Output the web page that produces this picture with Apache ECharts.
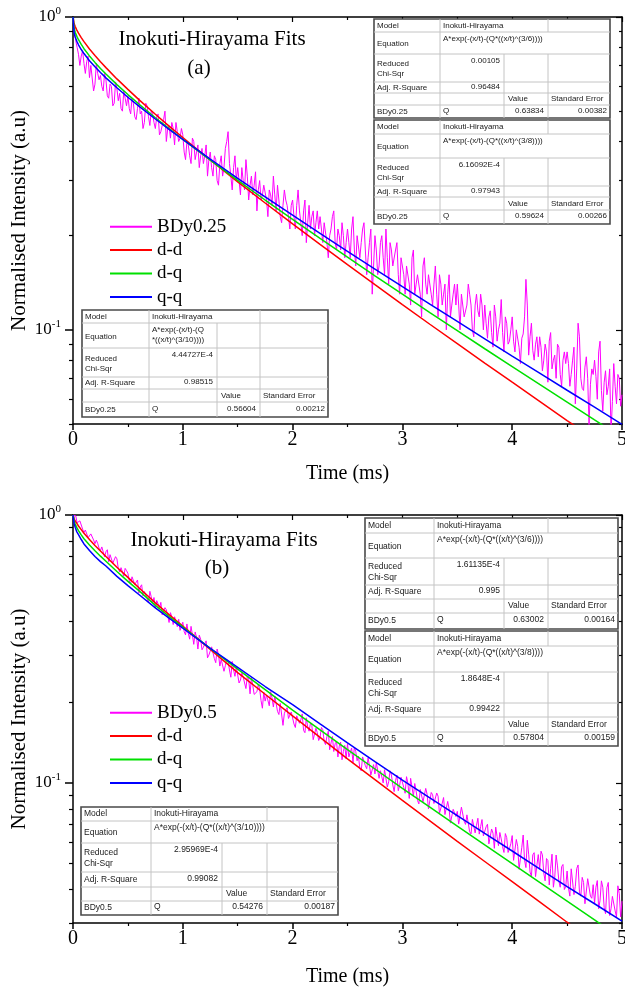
<!DOCTYPE html>
<html>
<head>
<meta charset="utf-8">
<script src="https://cdn.jsdelivr.net/npm/echarts@6/dist/echarts.min.js"></script>
<style>
  html, body { margin: 0; padding: 0; background: #ffffff; }
  #chart { width: 625px; height: 990px; }
</style>
</head>
<body>
<div id="chart"></div>
<script>
// ---- Measured decay data (normalised intensity) ----
// "Even" arrays hold samples at t = 0, 0.025, 0.05 ... 5 ms,
// "odd" arrays hold the samples in between (t = 0.0125, 0.0375 ... 4.9875 ms).
const sampleStep = 0.025;

const decayBDy025Even = [
  0.98, 0.84, 0.76, 0.75, 0.71, 0.72, 0.64, 0.69, 0.61, 0.66,
  0.65, 0.58, 0.63, 0.55, 0.60, 0.53, 0.59, 0.57, 0.50, 0.55,
  0.56, 0.49, 0.53, 0.47, 0.55, 0.50, 0.46, 0.52, 0.45, 0.49,
  0.44, 0.49, 0.43, 0.47, 0.40, 0.45, 0.46, 0.39, 0.43, 0.41,
  0.42, 0.35, 0.39, 0.34, 0.40, 0.37, 0.33, 0.38, 0.36, 0.31,
  0.37, 0.31, 0.35, 0.29, 0.36, 0.33, 0.40, 0.34, 0.28, 0.36,
  0.33, 0.27, 0.30, 0.35, 0.26, 0.31, 0.29, 0.24, 0.30, 0.27,
  0.29, 0.23, 0.27, 0.31, 0.24, 0.26, 0.22, 0.28, 0.25, 0.21,
  0.26, 0.21, 0.28, 0.22, 0.24, 0.19, 0.25, 0.23, 0.20, 0.24,
  0.23, 0.19, 0.22, 0.17, 0.21, 0.24, 0.18, 0.20, 0.22, 0.17,
  0.21, 0.17, 0.23, 0.16, 0.20, 0.19, 0.22, 0.15, 0.19, 0.13,
  0.20, 0.15, 0.19, 0.17, 0.21, 0.14, 0.18, 0.16, 0.19, 0.13,
  0.17, 0.13, 0.16, 0.12, 0.18, 0.14, 0.15, 0.11, 0.17, 0.13,
  0.15, 0.12, 0.16, 0.11, 0.14, 0.13, 0.10, 0.15, 0.12, 0.14,
  0.14, 0.10, 0.13, 0.11, 0.14, 0.12, 0.095, 0.13, 0.11, 0.12,
  0.12, 0.094, 0.115, 0.088, 0.11, 0.10, 0.125, 0.085, 0.105, 0.092,
  0.11, 0.085, 0.10, 0.078, 0.097, 0.145, 0.083, 0.105, 0.08, 0.095,
  0.095, 0.074, 0.09, 0.068, 0.098, 0.08, 0.07, 0.088, 0.066, 0.085,
  0.085, 0.066, 0.08, 0.058, 0.105, 0.07, 0.064, 0.082, 0.049, 0.075,
  0.08, 0.06, 0.092, 0.055, 0.074, 0.066, 0.047, 0.078, 0.058, 0.07,
  0.062
];
const decayBDy025Odd = [
  0.90, 0.80, 0.70, 0.78, 0.66, 0.75, 0.70, 0.58, 0.71, 0.63,
  0.60, 0.66, 0.56, 0.61, 0.52, 0.62, 0.54, 0.51, 0.58, 0.52,
  0.51, 0.55, 0.48, 0.51, 0.49, 0.44, 0.53, 0.48, 0.50, 0.46,
  0.48, 0.42, 0.45, 0.50, 0.44, 0.41, 0.44, 0.46, 0.40, 0.44,
  0.37, 0.40, 0.36, 0.41, 0.35, 0.39, 0.36, 0.34, 0.39, 0.35,
  0.33, 0.36, 0.30, 0.34, 0.31, 0.38, 0.43, 0.31, 0.33, 0.30,
  0.30, 0.33, 0.28, 0.31, 0.29, 0.27, 0.32, 0.28, 0.26, 0.29,
  0.26, 0.28, 0.25, 0.27, 0.29, 0.23, 0.25, 0.26, 0.23, 0.25,
  0.23, 0.25, 0.24, 0.20, 0.26, 0.22, 0.21, 0.24, 0.22, 0.21,
  0.21, 0.22, 0.19, 0.20, 0.23, 0.19, 0.21, 0.18, 0.20, 0.19,
  0.19, 0.21, 0.18, 0.20, 0.17, 0.21, 0.18, 0.17, 0.21, 0.16,
  0.18, 0.16, 0.20, 0.15, 0.17, 0.19, 0.16, 0.18, 0.15, 0.17,
  0.15, 0.16, 0.14, 0.17, 0.13, 0.15, 0.13, 0.16, 0.14, 0.15,
  0.13, 0.14, 0.13, 0.15, 0.12, 0.14, 0.13, 0.11, 0.13, 0.12,
  0.12, 0.13, 0.11, 0.12, 0.13, 0.10, 0.12, 0.115, 0.13, 0.10,
  0.105, 0.11, 0.098, 0.12, 0.092, 0.105, 0.098, 0.11, 0.09, 0.10,
  0.092, 0.10, 0.088, 0.094, 0.11, 0.12, 0.095, 0.086, 0.09, 0.082,
  0.088, 0.08, 0.085, 0.092, 0.075, 0.083, 0.09, 0.072, 0.08, 0.078,
  0.078, 0.072, 0.088, 0.075, 0.095, 0.065, 0.076, 0.07, 0.067, 0.072,
  0.071, 0.085, 0.064, 0.068, 0.062, 0.075, 0.059, 0.066, 0.072, 0.057
];

const decayBDy05Even = [
  1.0, 0.993, 0.925, 0.939, 0.860, 0.870, 0.833, 0.850, 0.781, 0.783,
  0.737, 0.773, 0.729, 0.669, 0.707, 0.660, 0.686, 0.613, 0.633, 0.632,
  0.606, 0.553, 0.587, 0.546, 0.511, 0.549, 0.518, 0.488, 0.519, 0.469,
  0.450, 0.466, 0.472, 0.429, 0.443, 0.397, 0.417, 0.417, 0.383, 0.371,
  0.398, 0.357, 0.362, 0.384, 0.329, 0.350, 0.356, 0.314, 0.331, 0.293,
  0.305, 0.323, 0.281, 0.301, 0.289, 0.261, 0.289, 0.264, 0.284, 0.250,
  0.269, 0.242, 0.249, 0.225, 0.244, 0.247, 0.214, 0.219, 0.224, 0.190,
  0.202, 0.213, 0.219, 0.192, 0.198, 0.180, 0.197, 0.182, 0.191, 0.172,
  0.184, 0.161, 0.181, 0.172, 0.157, 0.175, 0.156, 0.164, 0.144, 0.154,
  0.148, 0.158, 0.139, 0.156, 0.141, 0.131, 0.143, 0.137, 0.122, 0.138,
  0.140, 0.127, 0.119, 0.131, 0.126, 0.111, 0.126, 0.113, 0.116, 0.108,
  0.108, 0.120, 0.111, 0.100, 0.112, 0.101, 0.107, 0.0928, 0.107, 0.098,
  0.106, 0.0915, 0.0998, 0.104, 0.0891, 0.0932, 0.0835, 0.0956, 0.0859, 0.0907,
  0.0806, 0.0904, 0.084, 0.0892, 0.0772, 0.0882, 0.0772, 0.080, 0.0717, 0.0806,
  0.0783, 0.0705, 0.0799, 0.070, 0.0762, 0.0645, 0.0733, 0.0695, 0.0644, 0.073,
  0.0632, 0.0701, 0.0595, 0.0649, 0.0684, 0.0583, 0.0618, 0.055, 0.0625, 0.0569,
  0.0636, 0.0518, 0.058, 0.048, 0.0639, 0.0483, 0.0542, 0.0448, 0.0549, 0.0493,
  0.0476, 0.0539, 0.0431, 0.0513, 0.048, 0.0408, 0.0538, 0.043, 0.0487, 0.040,
  0.0469, 0.0378, 0.0476, 0.0411, 0.0494, 0.0378, 0.0425, 0.0358, 0.0437, 0.0371,
  0.0355, 0.0432, 0.0364, 0.0408, 0.0325, 0.0425, 0.0339, 0.038, 0.0316, 0.0386,
  0.0362
];
const decayBDy05Odd = [
  1.0, 0.936, 0.951, 0.886, 0.879, 0.823, 0.850, 0.807, 0.806, 0.752,
  0.760, 0.698, 0.742, 0.711, 0.661, 0.699, 0.631, 0.636, 0.591, 0.620,
  0.567, 0.588, 0.550, 0.572, 0.539, 0.499, 0.524, 0.470, 0.495, 0.492,
  0.479, 0.447, 0.424, 0.451, 0.422, 0.432, 0.390, 0.400, 0.408, 0.373,
  0.367, 0.392, 0.344, 0.357, 0.366, 0.316, 0.344, 0.321, 0.339, 0.300,
  0.322, 0.291, 0.316, 0.273, 0.291, 0.274, 0.284, 0.248, 0.264, 0.271,
  0.236, 0.257, 0.236, 0.250, 0.215, 0.231, 0.214, 0.233, 0.203, 0.218,
  0.213, 0.194, 0.208, 0.211, 0.185, 0.198, 0.164, 0.187, 0.174, 0.184,
  0.166, 0.178, 0.167, 0.181, 0.154, 0.162, 0.167, 0.145, 0.160, 0.144,
  0.161, 0.143, 0.149, 0.133, 0.149, 0.140, 0.125, 0.142, 0.131, 0.123,
  0.125, 0.135, 0.136, 0.121, 0.113, 0.125, 0.116, 0.124, 0.107, 0.117,
  0.119, 0.104, 0.111, 0.112, 0.0965, 0.111, 0.0983, 0.102, 0.0935, 0.105,
  0.0962, 0.1055, 0.0875, 0.0965, 0.0995, 0.086, 0.0945, 0.085, 0.0954, 0.080,
  0.0921, 0.0838, 0.0917, 0.077, 0.0839, 0.0762, 0.0853, 0.0708, 0.0797, 0.0749,
  0.0702, 0.0812, 0.072, 0.076, 0.0657, 0.0731, 0.0651, 0.0738, 0.0687, 0.0634,
  0.0686, 0.0592, 0.0673, 0.057, 0.063, 0.0653, 0.0578, 0.0647, 0.055, 0.0593,
  0.0514, 0.0615, 0.0476, 0.0575, 0.0515, 0.0611, 0.0465, 0.0539, 0.0447, 0.054,
  0.0556, 0.0461, 0.0522, 0.0416, 0.0542, 0.0445, 0.049, 0.0408, 0.0496, 0.041,
  0.0405, 0.0478, 0.0383, 0.0479, 0.0392, 0.0444, 0.0354, 0.0439, 0.0378, 0.0417,
  0.0408, 0.0339, 0.0431, 0.0343, 0.0406, 0.032, 0.0377, 0.0333, 0.0413, 0.0316
];

// ---- Inokuti-Hirayama fit curves, read at these times (ms) ----
const fitTime = [0, 0.01, 0.02, 0.035, 0.05, 0.075, 0.1, 0.15, 0.2, 0.25, 0.3, 0.4, 0.5, 0.6, 0.75, 0.875,
  1, 1.25, 1.5, 1.75, 2, 2.25, 2.5, 2.75, 3, 3.25, 3.5, 3.75, 4, 4.25, 4.5, 4.75, 5];

const fitDD_a = [1, 0.953, 0.932, 0.908, 0.888, 0.859, 0.834, 0.790, 0.753, 0.719, 0.689, 0.634, 0.587, 0.5445, 0.489, 0.448,
  0.412, 0.349, 0.297, 0.2543, 0.218, 0.1875, 0.1615, 0.1394, 0.1204, 0.1042, 0.0903, 0.0783, 0.068, 0.0591, 0.0513, 0.0447, 0.0389];
const fitDQ_a = [1, 0.920, 0.894, 0.867, 0.846, 0.817, 0.792, 0.751, 0.716, 0.685, 0.657, 0.608, 0.565, 0.527, 0.4765, 0.4396,
  0.406, 0.3486, 0.3005, 0.260, 0.2256, 0.196, 0.1707, 0.1488, 0.130, 0.1136, 0.0994, 0.0870, 0.0763, 0.0669, 0.0587, 0.0515, 0.0453];
const fitQQ_a = [1, 0.890, 0.863, 0.836, 0.815, 0.787, 0.764, 0.725, 0.693, 0.665, 0.639, 0.594, 0.554, 0.519, 0.472, 0.4374,
  0.406, 0.3514, 0.305, 0.2661, 0.2325, 0.2034, 0.178, 0.1564, 0.1374, 0.1208, 0.1064, 0.0936, 0.0824, 0.0727, 0.0641, 0.0566, 0.0499];

const fitDD_b = [1, 0.968, 0.95, 0.93, 0.91, 0.882, 0.855, 0.81, 0.77, 0.734, 0.70, 0.638, 0.585, 0.535, 0.47, 0.425,
  0.385, 0.315, 0.258, 0.2143, 0.178, 0.148, 0.123, 0.1029, 0.086, 0.0721, 0.0605, 0.0509, 0.0428, 0.036, 0.0302, 0.0254, 0.0213];
const fitDQ_b = [1, 0.95, 0.925, 0.897, 0.875, 0.843, 0.815, 0.773, 0.735, 0.702, 0.672, 0.615, 0.565, 0.522, 0.46, 0.418,
  0.382, 0.318, 0.266, 0.223, 0.187, 0.1577, 0.133, 0.1127, 0.0955, 0.0812, 0.069, 0.0587, 0.050, 0.0425, 0.0362, 0.0308, 0.0262];
const fitQQ_b = [1, 0.93, 0.90, 0.865, 0.845, 0.81, 0.78, 0.737, 0.70, 0.67, 0.645, 0.59, 0.545, 0.505, 0.45, 0.412,
  0.378, 0.318, 0.27, 0.229, 0.196, 0.166, 0.141, 0.120, 0.1025, 0.088, 0.0755, 0.0648, 0.0557, 0.0478, 0.041, 0.0354, 0.0305];

// ---- Axis ticks ----
const xTicks = [0, 1, 2, 3, 4, 5];
const yMajorTicks = [1, 0.1];
const yMinorTicks = [0.9, 0.8, 0.7, 0.6, 0.5, 0.4, 0.3, 0.2, 0.09, 0.08, 0.07, 0.06, 0.05, 0.04, 0.03];

// ---- Fit-result tables ----
const tableA1 = { eq: ['A*exp(-(x/t)-(Q*((x/t)^(3/6))))'], chi: '0.00105', r2: '0.96484', sample: 'BDy0.25', q: '0.63834', err: '0.00382' };
const tableA2 = { eq: ['A*exp(-(x/t)-(Q*((x/t)^(3/8))))'], chi: '6.16092E-4', r2: '0.97943', sample: 'BDy0.25', q: '0.59624', err: '0.00266' };
const tableA3 = { eq: ['A*exp(-(x/t)-(Q', '*((x/t)^(3/10))))'], chi: '4.44727E-4', r2: '0.98515', sample: 'BDy0.25', q: '0.56604', err: '0.00212' };
const tableB1 = { eq: ['A*exp(-(x/t)-(Q*((x/t)^(3/6))))'], chi: '1.61135E-4', r2: '0.995', sample: 'BDy0.5', q: '0.63002', err: '0.00164' };
const tableB2 = { eq: ['A*exp(-(x/t)-(Q*((x/t)^(3/8))))'], chi: '1.8648E-4', r2: '0.99422', sample: 'BDy0.5', q: '0.57804', err: '0.00159' };
const tableB3 = { eq: ['A*exp(-(x/t)-(Q*((x/t)^(3/10))))'], chi: '2.95969E-4', r2: '0.99082', sample: 'BDy0.5', q: '0.54276', err: '0.00187' };

// ---------------------------------------------------------------
const SERIF = '"Liberation Serif", "Times New Roman", serif';
const SANS = '"Liberation Sans", Arial, sans-serif';

const toPairs = (times, vals) => vals.map((v, i) => [times[i], v]);

// merge the on-grid and half-step samples into one time-ordered series
function mergeSamples(even, odd) {
  const out = [];
  even.forEach((v, i) => {
    out.push([Math.round(i * sampleStep * 10000) / 10000, v]);
    if (i < odd.length) out.push([Math.round((i + 0.5) * sampleStep * 10000) / 10000, odd[i]]);
  });
  return out;
}

function xAxes(gridIndex, nameGap) {
  return [
    {
      gridIndex, type: 'value', min: 0, max: 5, interval: 1, position: 'bottom',
      axisLine: { lineStyle: { color: '#000', width: 1.5 } },
      axisTick: { show: true, length: 6, inside: false, lineStyle: { color: '#000', width: 1.5 } },
      minorTick: { show: true, splitNumber: 2, length: 3, lineStyle: { color: '#000', width: 1.2 } },
      axisLabel: { color: '#000', fontSize: 20, fontFamily: SERIF, margin: 6, customValues: xTicks },
      splitLine: { show: false },
      name: 'Time (ms)', nameLocation: 'middle', nameGap, nameMoveOverlap: false,
      nameTextStyle: { color: '#000', fontSize: 20, fontFamily: SERIF }
    },
    {
      gridIndex, type: 'value', min: 0, max: 5, interval: 1, position: 'top',
      axisLine: { lineStyle: { color: '#000', width: 1.5 } },
      axisTick: { show: true, length: 5, inside: true, lineStyle: { color: '#000', width: 1.2 } },
      minorTick: { show: true, splitNumber: 2, length: 3, lineStyle: { color: '#000', width: 1.2 } },
      axisLabel: { show: false },
      splitLine: { show: false }
    }
  ];
}

function yAxes(gridIndex, minVal) {
  const base = { gridIndex, type: 'log', logBase: 10, min: minVal, max: 1, splitLine: { show: false } };
  const minors = yMinorTicks.filter(v => v >= minVal);
  return [
    Object.assign({}, base, {
      position: 'left',
      axisLine: { show: true, lineStyle: { color: '#000', width: 1.5 } },
      axisTick: { show: true, length: 8, inside: false, customValues: yMajorTicks, lineStyle: { color: '#000', width: 1.5 } },
      axisLabel: {
        show: true, margin: 12, customValues: yMajorTicks,
        formatter: (v) => (v >= 0.99 ? '{b|10}{s|0}' : '{b|10}{s|-1}'),
        rich: {
          b: { fontSize: 17, fontFamily: SERIF, color: '#000' },
          s: { fontSize: 11, fontFamily: SERIF, color: '#000', padding: [0, 0, 11, 0] }
        }
      },
      name: 'Normalised Intensity (a.u)', nameLocation: 'middle', nameGap: 43, nameRotate: 90,
      nameMoveOverlap: false,
      nameTextStyle: { color: '#000', fontSize: 21, fontFamily: SERIF }
    }),
    Object.assign({}, base, {
      position: 'left',
      axisLine: { show: false },
      axisTick: { show: true, length: 4, inside: false, customValues: minors, lineStyle: { color: '#000', width: 1.2 } },
      axisLabel: { show: false }
    }),
    Object.assign({}, base, {
      position: 'right',
      axisLine: { show: true, lineStyle: { color: '#000', width: 1.5 } },
      axisTick: { show: true, length: 6, inside: true, customValues: yMajorTicks, lineStyle: { color: '#000', width: 1.2 } },
      axisLabel: { show: false }
    }),
    Object.assign({}, base, {
      position: 'right',
      axisLine: { show: false },
      axisTick: { show: true, length: 3, inside: true, customValues: minors, lineStyle: { color: '#000', width: 1.2 } },
      axisLabel: { show: false }
    })
  ];
}

function lineSeries(name, color, width, data, xIdx, yIdx, z) {
  return {
    name, type: 'line', data, xAxisIndex: xIdx, yAxisIndex: yIdx,
    showSymbol: false, symbol: 'none', smooth: false,
    clip: true, animation: false, z,
    lineStyle: { color, width }, itemStyle: { color }
  };
}

// Fit-result table drawn as graphic shapes.
function buildTable(t, cols, rows, fs, eqSplit) {
  const els = [];
  const [c0, c1, c2, c3, c4] = cols;
  const [r0, r1, r2, r3, r4, r5, r6] = rows;
  const grid = '#c4c4c4';
  els.push({ type: 'rect', shape: { x: c0, y: r0, width: c4 - c0, height: r6 - r0 },
    style: { fill: '#fff', stroke: '#4a4a4a', lineWidth: 1.6 }, z: 100 });
  const hline = (y) => els.push({ type: 'line', shape: { x1: c0, y1: y, x2: c4, y2: y }, style: { stroke: grid, lineWidth: 1 }, z: 101 });
  const vline = (x, ya, yb) => els.push({ type: 'line', shape: { x1: x, y1: ya, x2: x, y2: yb }, style: { stroke: grid, lineWidth: 1 }, z: 101 });
  [r1, r2, r3, r4, r5].forEach(hline);
  vline(c1, r0, r6);
  vline(c3, r0, r1);
  if (eqSplit) { vline(c2, r1, r2); vline(c3, r1, r2); }
  vline(c2, r2, r6);
  vline(c3, r2, r6);
  const txt = (s, x, y, align, vAlign) => els.push({
    type: 'text', x, y, z: 102,
    style: { text: s, fill: '#1a1a1a', font: fs + 'px ' + SANS, align: align || 'left',
      verticalAlign: vAlign || 'middle', lineHeight: Math.round(fs * 1.3) }
  });
  const mid = (a, b) => (a + b) / 2;
  txt('Model', c0 + 3, mid(r0, r1));
  txt('Inokuti-Hirayama', c1 + 3, mid(r0, r1));
  txt('Equation', c0 + 3, mid(r1, r2) + 1);
  txt(t.eq.join('\n'), c1 + 3, r1 + 1.5, 'left', 'top');
  txt('Reduced\nChi-Sqr', c0 + 3, mid(r2, r3) + 1);
  txt(t.chi, c2 - 4, r2 + 1.5, 'right', 'top');
  txt('Adj. R-Square', c0 + 3, mid(r3, r4));
  txt(t.r2, c2 - 4, mid(r3, r4) - 1, 'right');
  txt('Value', c2 + 4, mid(r4, r5));
  txt('Standard Error', c3 + 3, mid(r4, r5));
  txt(t.sample, c0 + 3, mid(r5, r6));
  txt('Q', c1 + 3, mid(r5, r6) - 1);
  txt(t.q, c3 - 4, mid(r5, r6) - 1, 'right');
  txt(t.err, c4 - 3, mid(r5, r6) - 1, 'right');
  return els;
}

const titleText = (s, x, y) => ({ type: 'text', x, y, z: 90,
  style: { text: s, fill: '#000', font: '21px ' + SERIF, align: 'center', verticalAlign: 'middle' } });

const graphics = [].concat(
  [titleText('Inokuti-Hirayama Fits', 212, 39), titleText('(a)', 199, 68),
   titleText('Inokuti-Hirayama Fits', 224, 540), titleText('(b)', 217, 568)],
  buildTable(tableA1, [374, 440, 504, 548, 610], [19, 32, 54, 82, 93, 105, 118], 8, false),
  buildTable(tableA2, [374, 440, 504, 548, 610], [120, 134, 158, 186, 197, 210, 224], 8, false),
  buildTable(tableA3, [82, 149, 217, 260, 328], [310, 323, 348, 377, 389, 402, 417], 8, true),
  buildTable(tableB1, [365, 434, 504, 548, 618], [518, 533, 558, 585, 599, 613, 629], 8.5, false),
  buildTable(tableB2, [365, 434, 504, 548, 618], [631, 646, 672, 703, 717, 732, 746], 8.5, false),
  buildTable(tableB3, [81, 151, 222, 267, 338], [807, 821, 843, 872, 887, 901, 915], 8.5, false)
);

const legendBase = {
  orient: 'vertical', left: 110, itemWidth: 42, itemHeight: 2, itemGap: 0, icon: 'rect', padding: 0,
  selectedMode: false, itemStyle: { borderWidth: 0 },
  textStyle: { color: '#000', fontSize: 19, fontFamily: SERIF, lineHeight: 23.4 }
};

const option = {
  animation: false,
  backgroundColor: '#fff',
  grid: [
    { left: 73, top: 17, width: 549, height: 407, containLabel: false, outerBoundsMode: 'none' },
    { left: 73, top: 515, width: 549, height: 408, containLabel: false, outerBoundsMode: 'none' }
  ],
  xAxis: [].concat(xAxes(0, 40), xAxes(1, 44)),
  yAxis: [].concat(yAxes(0, 0.05), yAxes(1, 0.03)),
  legend: [
    Object.assign({}, legendBase, { top: 215, data: ['BDy0.25', 'd-d', 'd-q', 'q-q'] }),
    Object.assign({}, legendBase, { top: 701, data: ['BDy0.5', 'd-d', 'd-q', 'q-q'] })
  ],
  series: [
    lineSeries('BDy0.25', '#ff00ff', 1, mergeSamples(decayBDy025Even, decayBDy025Odd), 0, 0, 2),
    lineSeries('d-d', '#ff0000', 1.5, toPairs(fitTime, fitDD_a), 0, 0, 3),
    lineSeries('d-q', '#00e000', 1.5, toPairs(fitTime, fitDQ_a), 0, 0, 4),
    lineSeries('q-q', '#0000ff', 1.5, toPairs(fitTime, fitQQ_a), 0, 0, 5),
    lineSeries('BDy0.5', '#ff00ff', 1, mergeSamples(decayBDy05Even, decayBDy05Odd), 2, 4, 2),
    lineSeries('d-d', '#ff0000', 1.5, toPairs(fitTime, fitDD_b), 2, 4, 3),
    lineSeries('d-q', '#00e000', 1.5, toPairs(fitTime, fitDQ_b), 2, 4, 4),
    lineSeries('q-q', '#0000ff', 1.5, toPairs(fitTime, fitQQ_b), 2, 4, 5)
  ],
  graphic: graphics
};

const chart = echarts.init(document.getElementById('chart'), null, { renderer: 'canvas' });
chart.setOption(option);
</script>
</body>
</html>
